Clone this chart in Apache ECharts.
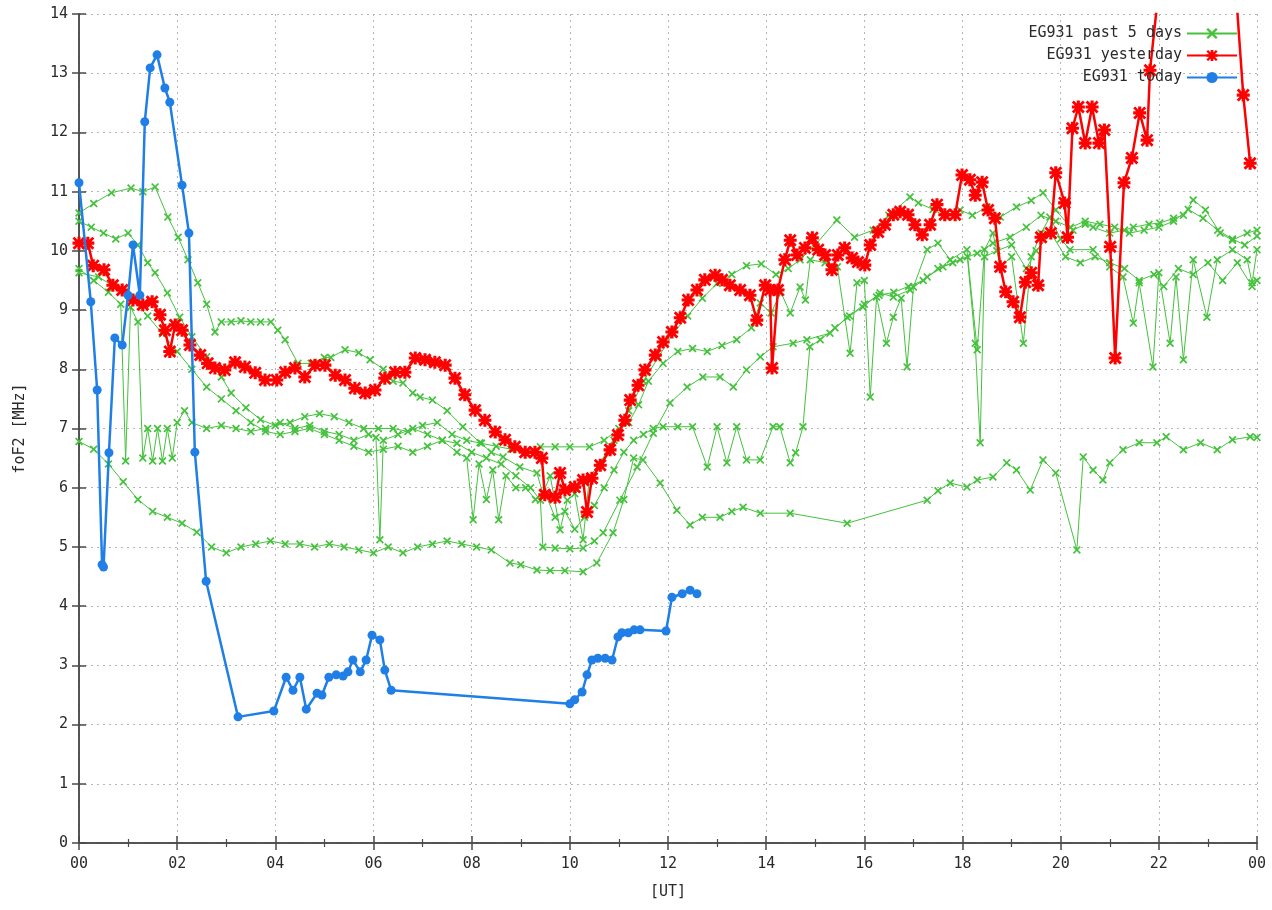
<!DOCTYPE html>
<html><head><meta charset="utf-8">
<script src="https://cdn.jsdelivr.net/npm/echarts@6/dist/echarts.min.js"></script>
<style>html,body{margin:0;padding:0;background:#fff}#c{width:1272px;height:910px}</style>
</head><body><div id="c"></div>
<script>
// ---- data: [hour UT, foF2 MHz] ----
const hourLabels = ['00','02','04','06','08','10','12','14','16','18','20','22','00'];

const pastDayA = [[0,10.64],[0.3,10.8],[0.66,10.98],[1.06,11.06],[1.3,11.0],[1.55,11.08],[1.81,10.57],[2.02,10.23],[2.22,9.85],[2.42,9.46],[2.6,9.1],[2.77,8.63],[2.9,8.8],[3.1,8.8],[3.3,8.82],[3.5,8.8],[3.7,8.8],[3.91,8.8],[4.05,8.66],[4.2,8.5],[4.46,8.1],[4.73,8.1],[5.0,8.2],[5.13,8.2],[5.42,8.33],[5.7,8.28],[5.93,8.16],[6.2,8.0],[6.4,7.8],[6.6,7.77],[6.8,7.6],[6.95,7.53],[7.2,7.48],[7.5,7.3],[7.82,7.03],[8.17,6.76],[8.4,6.6],[8.64,6.52],[8.98,6.35],[9.33,6.25],[9.45,5.9],[9.6,6.2],[9.8,5.29],[9.95,5.79],[10.1,5.9],[10.27,5.12],[10.4,6.18],[10.6,6.4],[10.9,6.8],[11.2,7.3],[11.5,7.8],[11.8,8.2],[12.1,8.6],[12.4,8.9],[12.7,9.2],[13.0,9.45],[13.3,9.6],[13.6,9.75],[13.9,9.78],[14.2,9.6],[14.45,9.7],[14.69,9.85],[15.0,10.1],[15.44,10.52],[15.8,10.23],[16.18,10.35],[16.5,10.6],[16.93,10.91],[17.1,10.81],[17.4,10.7],[17.68,10.57],[17.95,10.69],[18.2,10.6],[18.5,10.74],[18.77,10.57],[19.1,10.74],[19.4,10.85],[19.64,10.98],[19.9,10.69],[20.25,10.35],[20.5,10.45],[20.66,10.4],[21.0,10.3],[21.3,10.35],[21.48,10.4],[21.8,10.45],[22.02,10.47],[22.3,10.55],[22.5,10.6],[22.7,10.86],[22.95,10.69],[23.25,10.3],[23.5,10.18],[23.8,10.3],[24,10.35]];

const pastDayB = [[0,10.5],[0.25,10.4],[0.5,10.3],[0.75,10.2],[1.0,10.3],[1.2,10.1],[1.4,9.8],[1.55,9.63],[1.8,9.29],[2.05,8.88],[2.3,8.55],[2.6,8.21],[2.9,7.87],[3.1,7.6],[3.4,7.35],[3.7,7.15],[4.0,7.05],[4.3,7.1],[4.6,7.2],[4.9,7.25],[5.2,7.2],[5.5,7.1],[5.8,7.0],[6.1,7.0],[6.4,7.0],[6.7,6.95],[7.0,7.05],[7.3,7.1],[7.6,6.9],[7.9,6.8],[8.2,6.75],[8.5,6.7],[8.8,6.65],[9.1,6.6],[9.4,6.69],[9.7,6.69],[10.0,6.69],[10.4,6.69],[10.7,6.8],[11.0,7.0],[11.2,7.1],[11.4,7.4],[11.6,7.8],[11.9,8.1],[12.2,8.3],[12.5,8.35],[12.8,8.3],[13.1,8.4],[13.4,8.5],[13.7,8.7],[13.88,9.12],[14.1,8.95],[14.3,9.3],[14.49,8.95],[14.69,9.39],[14.8,9.17],[14.9,9.85],[15.2,9.8],[15.45,9.73],[15.71,8.27],[15.85,9.46],[16.0,9.5],[16.12,7.53],[16.25,9.22],[16.45,8.44],[16.59,8.88],[16.75,9.2],[16.87,8.04],[17.0,9.39],[17.28,10.02],[17.5,10.13],[17.75,9.85],[18.09,10.02],[18.3,8.33],[18.45,10.02],[18.62,10.3],[18.77,9.73],[19.0,9.9],[19.24,8.44],[19.4,9.9],[19.6,10.3],[19.78,10.57],[20.0,10.2],[20.19,10.02],[20.66,10.02],[21.0,9.73],[21.27,9.56],[21.48,8.78],[21.6,9.46],[21.88,8.04],[22.0,9.63],[22.23,8.44],[22.35,9.56],[22.5,8.16],[22.7,9.85],[22.98,8.88],[23.19,9.85],[23.5,10.02],[23.8,9.85],[23.9,9.46],[24,10.02]];

const pastDayC = [[0,9.63],[0.4,9.56],[0.7,9.4],[1.06,9.2],[1.4,8.9],[1.7,8.6],[2.0,8.3],[2.3,8.0],[2.6,7.7],[2.9,7.5],[3.2,7.3],[3.5,7.1],[3.8,6.95],[4.1,6.9],[4.4,6.95],[4.7,7.0],[5.0,6.9],[5.3,6.8],[5.6,6.7],[5.9,6.6],[6.2,6.65],[6.5,6.7],[6.8,6.6],[7.1,6.7],[7.4,6.8],[7.7,6.75],[8.0,6.6],[8.3,6.5],[8.6,6.4],[8.9,6.2],[9.2,6.0],[9.4,5.79],[9.45,5.0],[9.7,4.98],[10.0,4.97],[10.27,4.98],[10.5,5.1],[10.68,5.24],[11.02,5.79],[11.37,6.35],[11.7,6.92],[12.04,7.43],[12.39,7.7],[12.71,7.87],[13.06,7.87],[13.33,7.7],[13.6,7.99],[13.88,8.21],[14.14,8.38],[14.55,8.44],[14.83,8.5],[15.3,8.61],[15.65,8.88],[15.97,9.05],[16.32,9.29],[16.59,9.22],[16.93,9.34],[17.28,9.56],[17.6,9.73],[17.95,9.85],[18.3,9.96],[18.62,10.13],[18.97,10.23],[19.3,10.4],[19.6,10.6],[19.9,10.5],[20.2,10.4],[20.5,10.5],[20.8,10.45],[21.1,10.4],[21.4,10.3],[21.7,10.35],[22.0,10.4],[22.3,10.5],[22.6,10.7],[22.9,10.55],[23.2,10.35],[23.5,10.2],[23.75,10.1],[24,10.25]];

const pastDayD = [[0,9.7],[0.3,9.5],[0.6,9.3],[0.85,9.1],[0.95,6.45],[1.05,9.05],[1.2,8.8],[1.3,6.5],[1.4,7.0],[1.5,6.45],[1.6,7.0],[1.7,6.45],[1.8,7.0],[1.9,6.5],[2.0,7.1],[2.15,7.3],[2.3,7.1],[2.6,7.0],[2.9,7.05],[3.2,7.0],[3.5,6.95],[3.8,7.0],[4.1,7.1],[4.4,7.0],[4.7,7.05],[5.0,6.95],[5.3,6.9],[5.6,6.8],[5.9,6.9],[6.05,6.85],[6.13,5.12],[6.2,6.8],[6.5,6.9],[6.8,7.0],[7.1,6.9],[7.4,6.8],[7.7,6.6],[7.9,6.5],[8.03,5.46],[8.15,6.4],[8.3,5.8],[8.43,6.3],[8.55,5.46],[8.7,6.2],[8.9,6.0],[9.1,6.0],[9.3,5.8],[9.5,5.9],[9.7,5.5],[9.9,5.6],[10.1,5.3],[10.3,5.5],[10.5,5.7],[10.7,6.0],[10.9,6.3],[11.1,6.6],[11.3,6.8],[11.5,6.9],[11.7,7.0],[11.9,7.03],[12.2,7.03],[12.5,7.03],[12.8,6.35],[13.0,7.03],[13.2,6.42],[13.4,7.03],[13.6,6.47],[13.88,6.47],[14.14,7.03],[14.28,7.03],[14.49,6.42],[14.6,6.59],[14.75,7.03],[14.89,8.38],[15.1,8.5],[15.4,8.7],[15.7,8.9],[16.0,9.1],[16.3,9.25],[16.6,9.3],[16.9,9.4],[17.2,9.5],[17.5,9.7],[17.8,9.8],[18.1,9.9],[18.26,8.44],[18.36,6.76],[18.45,9.9],[18.7,10.0],[19.0,10.1],[19.3,9.7],[19.5,10.0],[19.8,10.3],[20.1,9.9],[20.4,9.8],[20.7,9.9],[21.0,9.8],[21.3,9.7],[21.6,9.5],[21.9,9.6],[22.1,9.4],[22.4,9.7],[22.7,9.6],[23.0,9.8],[23.3,9.5],[23.6,9.8],[23.9,9.4],[24,9.5]];

const pastDayE = [[0,6.78],[0.3,6.65],[0.6,6.4],[0.9,6.1],[1.2,5.8],[1.5,5.6],[1.8,5.5],[2.1,5.4],[2.4,5.25],[2.7,5.0],[3.0,4.9],[3.3,5.0],[3.6,5.05],[3.9,5.1],[4.2,5.05],[4.5,5.05],[4.8,5.0],[5.1,5.05],[5.4,5.0],[5.7,4.95],[6.0,4.9],[6.3,5.0],[6.6,4.9],[6.9,5.0],[7.2,5.05],[7.5,5.1],[7.8,5.05],[8.1,5.0],[8.4,4.95],[8.78,4.73],[9.0,4.7],[9.33,4.61],[9.6,4.6],[9.9,4.6],[10.27,4.58],[10.55,4.73],[10.88,5.24],[11.1,5.8],[11.3,6.5],[11.49,6.47],[11.84,6.08],[12.18,5.62],[12.45,5.37],[12.7,5.5],[13.06,5.5],[13.3,5.6],[13.53,5.67],[13.88,5.57],[14.49,5.57],[15.65,5.4],[17.28,5.79],[17.5,5.95],[17.75,6.08],[18.09,6.01],[18.3,6.13],[18.62,6.18],[18.9,6.42],[19.1,6.3],[19.38,5.96],[19.64,6.47],[19.9,6.25],[20.33,4.95],[20.46,6.52],[20.66,6.3],[20.86,6.13],[21.0,6.42],[21.27,6.64],[21.6,6.76],[21.96,6.76],[22.15,6.86],[22.5,6.64],[22.85,6.76],[23.19,6.64],[23.5,6.81],[23.86,6.86],[24,6.85]];

const yesterday = [[0,10.13],[0.18,10.13],[0.29,9.75],[0.51,9.68],[0.69,9.42],[0.88,9.34],[1.1,9.17],[1.3,9.09],[1.49,9.14],[1.65,8.92],[1.75,8.66],[1.85,8.3],[1.96,8.75],[2.1,8.66],[2.26,8.41],[2.47,8.24],[2.62,8.1],[2.77,8.02],[2.97,7.99],[3.18,8.12],[3.38,8.04],[3.59,7.94],[3.79,7.82],[4.03,7.82],[4.2,7.95],[4.4,8.02],[4.6,7.87],[4.81,8.07],[5.01,8.07],[5.22,7.9],[5.42,7.82],[5.62,7.68],[5.83,7.6],[6.03,7.65],[6.23,7.85],[6.44,7.95],[6.64,7.95],[6.85,8.19],[7.05,8.16],[7.25,8.12],[7.46,8.07],[7.66,7.85],[7.86,7.57],[8.07,7.31],[8.27,7.14],[8.48,6.94],[8.68,6.81],[8.88,6.69],[9.09,6.6],[9.29,6.6],[9.43,6.5],[9.49,5.88],[9.7,5.84],[9.8,6.25],[9.9,5.96],[10.1,6.01],[10.27,6.13],[10.35,5.59],[10.45,6.16],[10.62,6.38],[10.82,6.64],[10.98,6.89],[11.12,7.14],[11.23,7.48],[11.39,7.73],[11.53,7.99],[11.74,8.24],[11.9,8.46],[12.08,8.63],[12.25,8.87],[12.41,9.17],[12.59,9.34],[12.75,9.51],[12.96,9.59],[13.1,9.51],[13.26,9.42],[13.47,9.34],[13.67,9.25],[13.81,8.83],[13.98,9.42],[14.08,9.34],[14.12,8.02],[14.24,9.34],[14.38,9.85],[14.49,10.18],[14.63,9.93],[14.79,10.05],[14.94,10.22],[15.06,10.02],[15.2,9.93],[15.34,9.68],[15.46,9.93],[15.6,10.05],[15.75,9.88],[15.87,9.81],[16.01,9.76],[16.12,10.1],[16.28,10.32],[16.42,10.44],[16.59,10.61],[16.73,10.66],[16.89,10.61],[17.03,10.44],[17.18,10.27],[17.34,10.44],[17.48,10.78],[17.64,10.61],[17.85,10.61],[17.99,11.28],[18.15,11.2],[18.26,10.94],[18.4,11.16],[18.52,10.69],[18.66,10.55],[18.77,9.73],[18.88,9.31],[19.03,9.14],[19.17,8.88],[19.28,9.47],[19.4,9.63],[19.54,9.42],[19.6,10.23],[19.8,10.3],[19.9,11.32],[20.08,10.81],[20.14,10.23],[20.24,12.07],[20.36,12.43],[20.5,11.82],[20.64,12.43],[20.78,11.82],[20.89,12.04],[21.01,10.07],[21.11,8.19],[21.29,11.15],[21.45,11.57],[21.61,12.33],[21.76,11.87],[21.82,13.05],[22.1,15.2],[23.5,15.2],[23.72,12.63],[23.86,11.48]];

const today = [[0,11.15],[0.24,9.14],[0.37,7.65],[0.47,4.7],[0.5,4.66],[0.61,6.59],[0.73,8.53],[0.88,8.41],[1.0,9.25],[1.1,10.1],[1.24,9.25],[1.34,12.18],[1.45,13.09],[1.59,13.31],[1.75,12.75],[1.85,12.51],[2.1,11.11],[2.24,10.3],[2.36,6.6],[2.59,4.42],[3.24,2.13],[3.97,2.23],[4.22,2.8],[4.36,2.58],[4.5,2.8],[4.63,2.26],[4.85,2.53],[4.95,2.5],[5.09,2.8],[5.24,2.84],[5.38,2.82],[5.48,2.89],[5.58,3.09],[5.73,2.89],[5.85,3.09],[5.97,3.51],[6.13,3.43],[6.23,2.92],[6.36,2.58],[10.0,2.35],[10.1,2.42],[10.25,2.55],[10.35,2.84],[10.45,3.09],[10.57,3.12],[10.72,3.12],[10.86,3.09],[10.98,3.48],[11.06,3.55],[11.19,3.55],[11.31,3.6],[11.43,3.6],[11.96,3.58],[12.08,4.15],[12.29,4.21],[12.45,4.27],[12.59,4.21]];

// ---- styling ----
const GREEN = '#44c23c', RED = '#ff0000', BLUE = '#1f7fe6';
const FONT = 'DejaVu Sans Mono';
const X_SYM = 'path://M0,1.5L1.5,0L5,3.5L8.5,0L10,1.5L6.5,5L10,8.5L8.5,10L5,6.5L1.5,10L0,8.5L3.5,5Z';
const STAR_SYM = 'path://M0,1.5L1.5,0L5,3.5L8.5,0L10,1.5L6.5,5L10,8.5L8.5,10L5,6.5L1.5,10L0,8.5L3.5,5Z M3.8,0L6.2,0L6.2,3.8L10,3.8L10,6.2L6.2,6.2L6.2,10L3.8,10L3.8,6.2L0,6.2L0,3.8L3.8,3.8Z';
const pastDays = [pastDayA, pastDayB, pastDayC, pastDayD, pastDayE];

const greenSeries = pastDays.map(d => ({
  name: 'EG931 past 5 days', type: 'line', data: d,
  symbol: X_SYM, symbolSize: 8,
  itemStyle: { color: GREEN }, lineStyle: { color: GREEN, width: 1 },
  z: 2, clip: true
}));

const AX = '#4a4a4a';
const axisLine = { show: true, lineStyle: { color: AX, width: 1.5 } };
const txt = { color: '#2a2a2a', fontFamily: FONT, fontSize: 15 };

const chart = echarts.init(document.getElementById('c'), null, { renderer: 'canvas' });
chart.setOption({
  animation: false,
  backgroundColor: '#fff',
  grid: { left: 79, right: 15, top: 14, bottom: 67, containLabel: false },
  legend: {
    orient: 'vertical', right: 34, top: 26, align: 'right', padding: 0,
    itemWidth: 50, itemHeight: 14, itemGap: 7,
    textStyle: { color: '#2a2a2a', fontFamily: FONT, fontSize: 15, lineHeight: 14 },
    data: ['EG931 past 5 days', 'EG931 yesterday', 'EG931 today']
  },
  xAxis: [{
    type: 'value', min: 0, max: 24, interval: 2,
    name: '[UT]', nameLocation: 'middle', nameGap: 42, nameTextStyle: txt,
    axisLine, axisLabel: Object.assign({ margin: 14, formatter: v => hourLabels[Math.round(v / 2)] }, txt),
    axisTick: { inside: true, length: 7, lineStyle: { color: AX, width: 1.5 } },
    minorTick: { show: true, splitNumber: 2, length: 4, lineStyle: { color: AX, width: 1.2 } },
    splitLine: { show: true, lineStyle: { color: '#b5b5b5', width: 1, type: [2, 4] } }
  }, {
    type: 'value', min: 0, max: 24, interval: 2, position: 'top',
    axisLine, axisLabel: { show: false },
    axisTick: { inside: true, length: 7, lineStyle: { color: AX, width: 1.5 } },
    minorTick: { show: true, splitNumber: 2, length: 4, lineStyle: { color: AX, width: 1.2 } },
    splitLine: { show: false }
  }],
  yAxis: [{
    type: 'value', min: 0, max: 14, interval: 1,
    name: 'foF2 [MHz]', nameLocation: 'middle', nameGap: 51, nameRotate: 90, nameTextStyle: txt,
    axisLine, axisLabel: Object.assign({ margin: 11 }, txt),
    axisTick: { inside: true, length: 7, lineStyle: { color: AX, width: 1.5 } },
    splitLine: { show: true, lineStyle: { color: '#b5b5b5', width: 1, type: [2, 4] } }
  }, {
    type: 'value', min: 0, max: 14, interval: 1, position: 'right',
    axisLine, axisLabel: { show: false },
    axisTick: { inside: true, length: 7, lineStyle: { color: AX, width: 1.5 } },
    splitLine: { show: false }
  }],
  series: greenSeries.concat([{
    name: 'EG931 yesterday', type: 'line', data: yesterday,
    symbol: STAR_SYM, symbolSize: 13,
    itemStyle: { color: RED }, lineStyle: { color: RED, width: 2.5 },
    z: 3, clip: true
  }, {
    name: 'EG931 today', type: 'line', data: today,
    symbol: 'circle', symbolSize: 9,
    itemStyle: { color: BLUE }, lineStyle: { color: BLUE, width: 2.5 },
    z: 4, clip: true
  }])
});
</script></body></html>
